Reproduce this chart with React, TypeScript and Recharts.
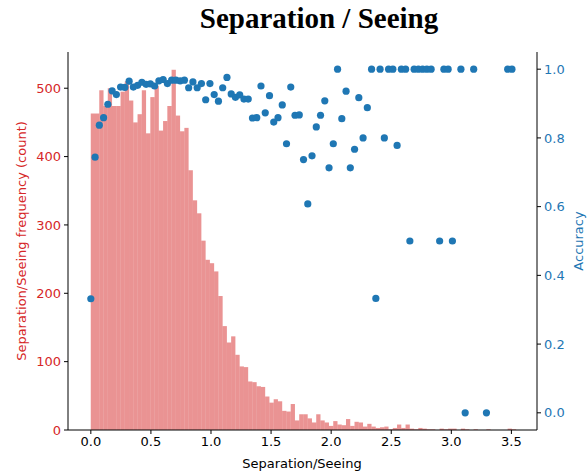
import React from "react";
import { ComposedChart, Bar, Scatter, XAxis, YAxis } from "recharts";

// Histogram bin width (Separation/Seeing units); 100 bins starting at 0
const BIN_WIDTH = 0.0354;

// Counts per bin
const binCounts = [
  463, 463, 497, 474, 500, 474, 474, 495, 510, 482,
  450, 462, 497, 434, 487, 503, 438, 452, 474, 527,
  460, 437, 442, 380, 336, 317, 277, 249, 244, 232,
  196, 152, 128, 137, 110, 93, 92, 71, 70, 64,
  63, 49, 40, 45, 42, 28, 27, 38, 14, 23,
  23, 17, 11, 23, 14, 11, 6, 13, 8, 7,
  16, 6, 12, 11, 5, 9, 5, 3, 4, 5,
  1, 3, 8, 3, 8, 2, 1, 3, 2, 1,
  1, 0, 2, 1, 2, 2, 0, 2, 1, 0,
  1, 0, 0, 1, 0, 0, 0, 0, 2, 1,
];

// Accuracy per bin (plotted at the bin's left edge); null = empty bin
const binAccuracy: (number | null)[] = [
  0.332, 0.744, 0.837, 0.859, 0.898, 0.937, 0.926, 0.948, 0.947, 0.965,
  0.948, 0.953, 0.962, 0.956, 0.957, 0.951, 0.966, 0.97, 0.958, 0.968,
  0.968, 0.966, 0.968, 0.946, 0.963, 0.946, 0.958, 0.911, 0.958, 0.926,
  0.907, 0.946, 0.976, 0.928, 0.918, 0.925, 0.913, 0.913, 0.858, 0.859,
  0.951, 0.873, 0.923, 0.846, 0.859, 0.896, 0.783, 0.948, 0.866, 0.867,
  0.737, 0.608, 0.748, 0.832, 0.866, 0.908, 0.713, 0.783, 1.0, 0.856,
  0.936, 0.713, 0.767, 0.917, 0.8, 0.888, 1.0, 0.333, 1.0, 0.8,
  1.0, 1.0, 0.778, 1.0, 1.0, 0.5, 1.0, 1.0, 1.0, 1.0,
  1.0, null, 0.5, 1.0, 1.0, 0.5, null, 1.0, 0.0, null,
  1.0, null, null, 0.0, null, null, null, null, 1.0, 1.0,
];

const xTicks = [0, 0.5, 1.0, 1.5, 2.0, 2.5, 3.0, 3.5];
const countTicks = [0, 100, 200, 300, 400, 500];
const accTicks = [0, 0.2, 0.4, 0.6, 0.8, 1.0];

const RED = "#d62728";
const BLUE = "#1f77b4";
const FONT = "DejaVu Sans, sans-serif";

const X_DOMAIN: [number, number] = [-0.19, 3.713];
const CHART_W = 587;
const CHART_H = 475;
const LEFT_W = 68;
const RIGHT_W = 50;
const PLOT_W = CHART_W - LEFT_W - RIGHT_W;
// bar width in pixels = one bin in data units through the axis scale
const BAR_PX = (BIN_WIDTH * PLOT_W) / (X_DOMAIN[1] - X_DOMAIN[0]);

const histData = binCounts.map((c, i) => ({ x: (i + 0.5) * BIN_WIDTH, count: c }));
const accData = binAccuracy
  .map((a, i) => (a === null ? null : { x: i * BIN_WIDTH, acc: a }))
  .filter((d): d is { x: number; acc: number } => d !== null);

const Dot = (props: any) => {
  const { cx, cy } = props;
  if (cx == null || cy == null) return null;
  return <circle cx={cx} cy={cy} r={3.6} fill={BLUE} />;
};

const HistRect = (props: any) => {
  const { x, y, width, height } = props;
  if (!height || height <= 0) return null;
  const cx = x + width / 2;
  return (
    <rect
      x={cx - BAR_PX / 2}
      y={y}
      width={BAR_PX}
      height={height}
      fill={RED}
      fillOpacity={0.5}
    />
  );
};

export default function App() {
  return (
    <div style={{ position: "absolute", left: 0, top: 0, width: CHART_W, height: CHART_H, background: "#fff" }}>
      <ComposedChart
        width={CHART_W}
        height={CHART_H}
        data={histData}
        margin={{ top: 52, right: 0, bottom: 0, left: 0 }}
        barCategoryGap={0}
        barGap={0}
      >
        <XAxis
          xAxisId="bottom"
          dataKey="x"
          type="number"
          domain={X_DOMAIN}
          allowDataOverflow
          ticks={xTicks}
          tickFormatter={(v: number) => v.toFixed(1)}
          height={45}
          tickSize={4}
          tickMargin={3}
          stroke="#000"
          tick={{ fill: "#000", fontSize: 13, fontFamily: FONT }}
          axisLine={{ stroke: "#000", strokeWidth: 1 }}
          tickLine={{ stroke: "#000" }}
        />
        <XAxis
          xAxisId="top"
          orientation="top"
          type="number"
          domain={X_DOMAIN}
          allowDataOverflow
          ticks={[]}
          tick={false}
          tickLine={false}
          height={0}
          axisLine={{ stroke: "#000", strokeWidth: 1 }}
        />
        <YAxis
          yAxisId="left"
          orientation="left"
          type="number"
          domain={[0, 553]}
          allowDataOverflow
          ticks={countTicks}
          width={LEFT_W}
          tickSize={4}
          tickMargin={3}
          tick={{ fill: RED, fontSize: 13, fontFamily: FONT }}
          axisLine={{ stroke: "#000", strokeWidth: 1 }}
          tickLine={{ stroke: "#000" }}
        />
        <YAxis
          yAxisId="right"
          orientation="right"
          type="number"
          domain={[-0.05, 1.05]}
          allowDataOverflow
          ticks={accTicks}
          tickFormatter={(v: number) => v.toFixed(1)}
          width={RIGHT_W}
          tickSize={4}
          tickMargin={3}
          tick={{ fill: BLUE, fontSize: 13, fontFamily: FONT }}
          axisLine={{ stroke: "#000", strokeWidth: 1 }}
          tickLine={{ stroke: "#000" }}
        />
        <Bar
          xAxisId="bottom"
          yAxisId="left"
          dataKey="count"
          fill={RED}
          fillOpacity={0.5}
          shape={HistRect}
          isAnimationActive={false}
        />
        <Scatter
          xAxisId="bottom"
          yAxisId="right"
          data={accData}
          dataKey="acc"
          fill={BLUE}
          shape={Dot}
          isAnimationActive={false}
        />
      </ComposedChart>
      <svg
        width={CHART_W}
        height={CHART_H}
        style={{ position: "absolute", left: 0, top: 0, pointerEvents: "none" }}
      >
        <text
          x={319}
          y={28}
          textAnchor="middle"
          fontFamily="Liberation Serif, Times New Roman, serif"
          fontWeight="bold"
          fontSize={29}
          fill="#000"
        >
          Separation / Seeing
        </text>
        <text x={302} y={468} textAnchor="middle" fontFamily={FONT} fontSize={13} fill="#000">
          Separation/Seeing
        </text>
        <text
          transform="translate(26,241) rotate(-90)"
          textAnchor="middle"
          fontFamily={FONT}
          fontSize={13}
          fill={RED}
        >
          Separation/Seeing frequency (count)
        </text>
        <text
          transform="translate(583,241) rotate(-90)"
          textAnchor="middle"
          fontFamily={FONT}
          fontSize={13}
          fill={BLUE}
        >
          Accuracy
        </text>
      </svg>
    </div>
  );
}
